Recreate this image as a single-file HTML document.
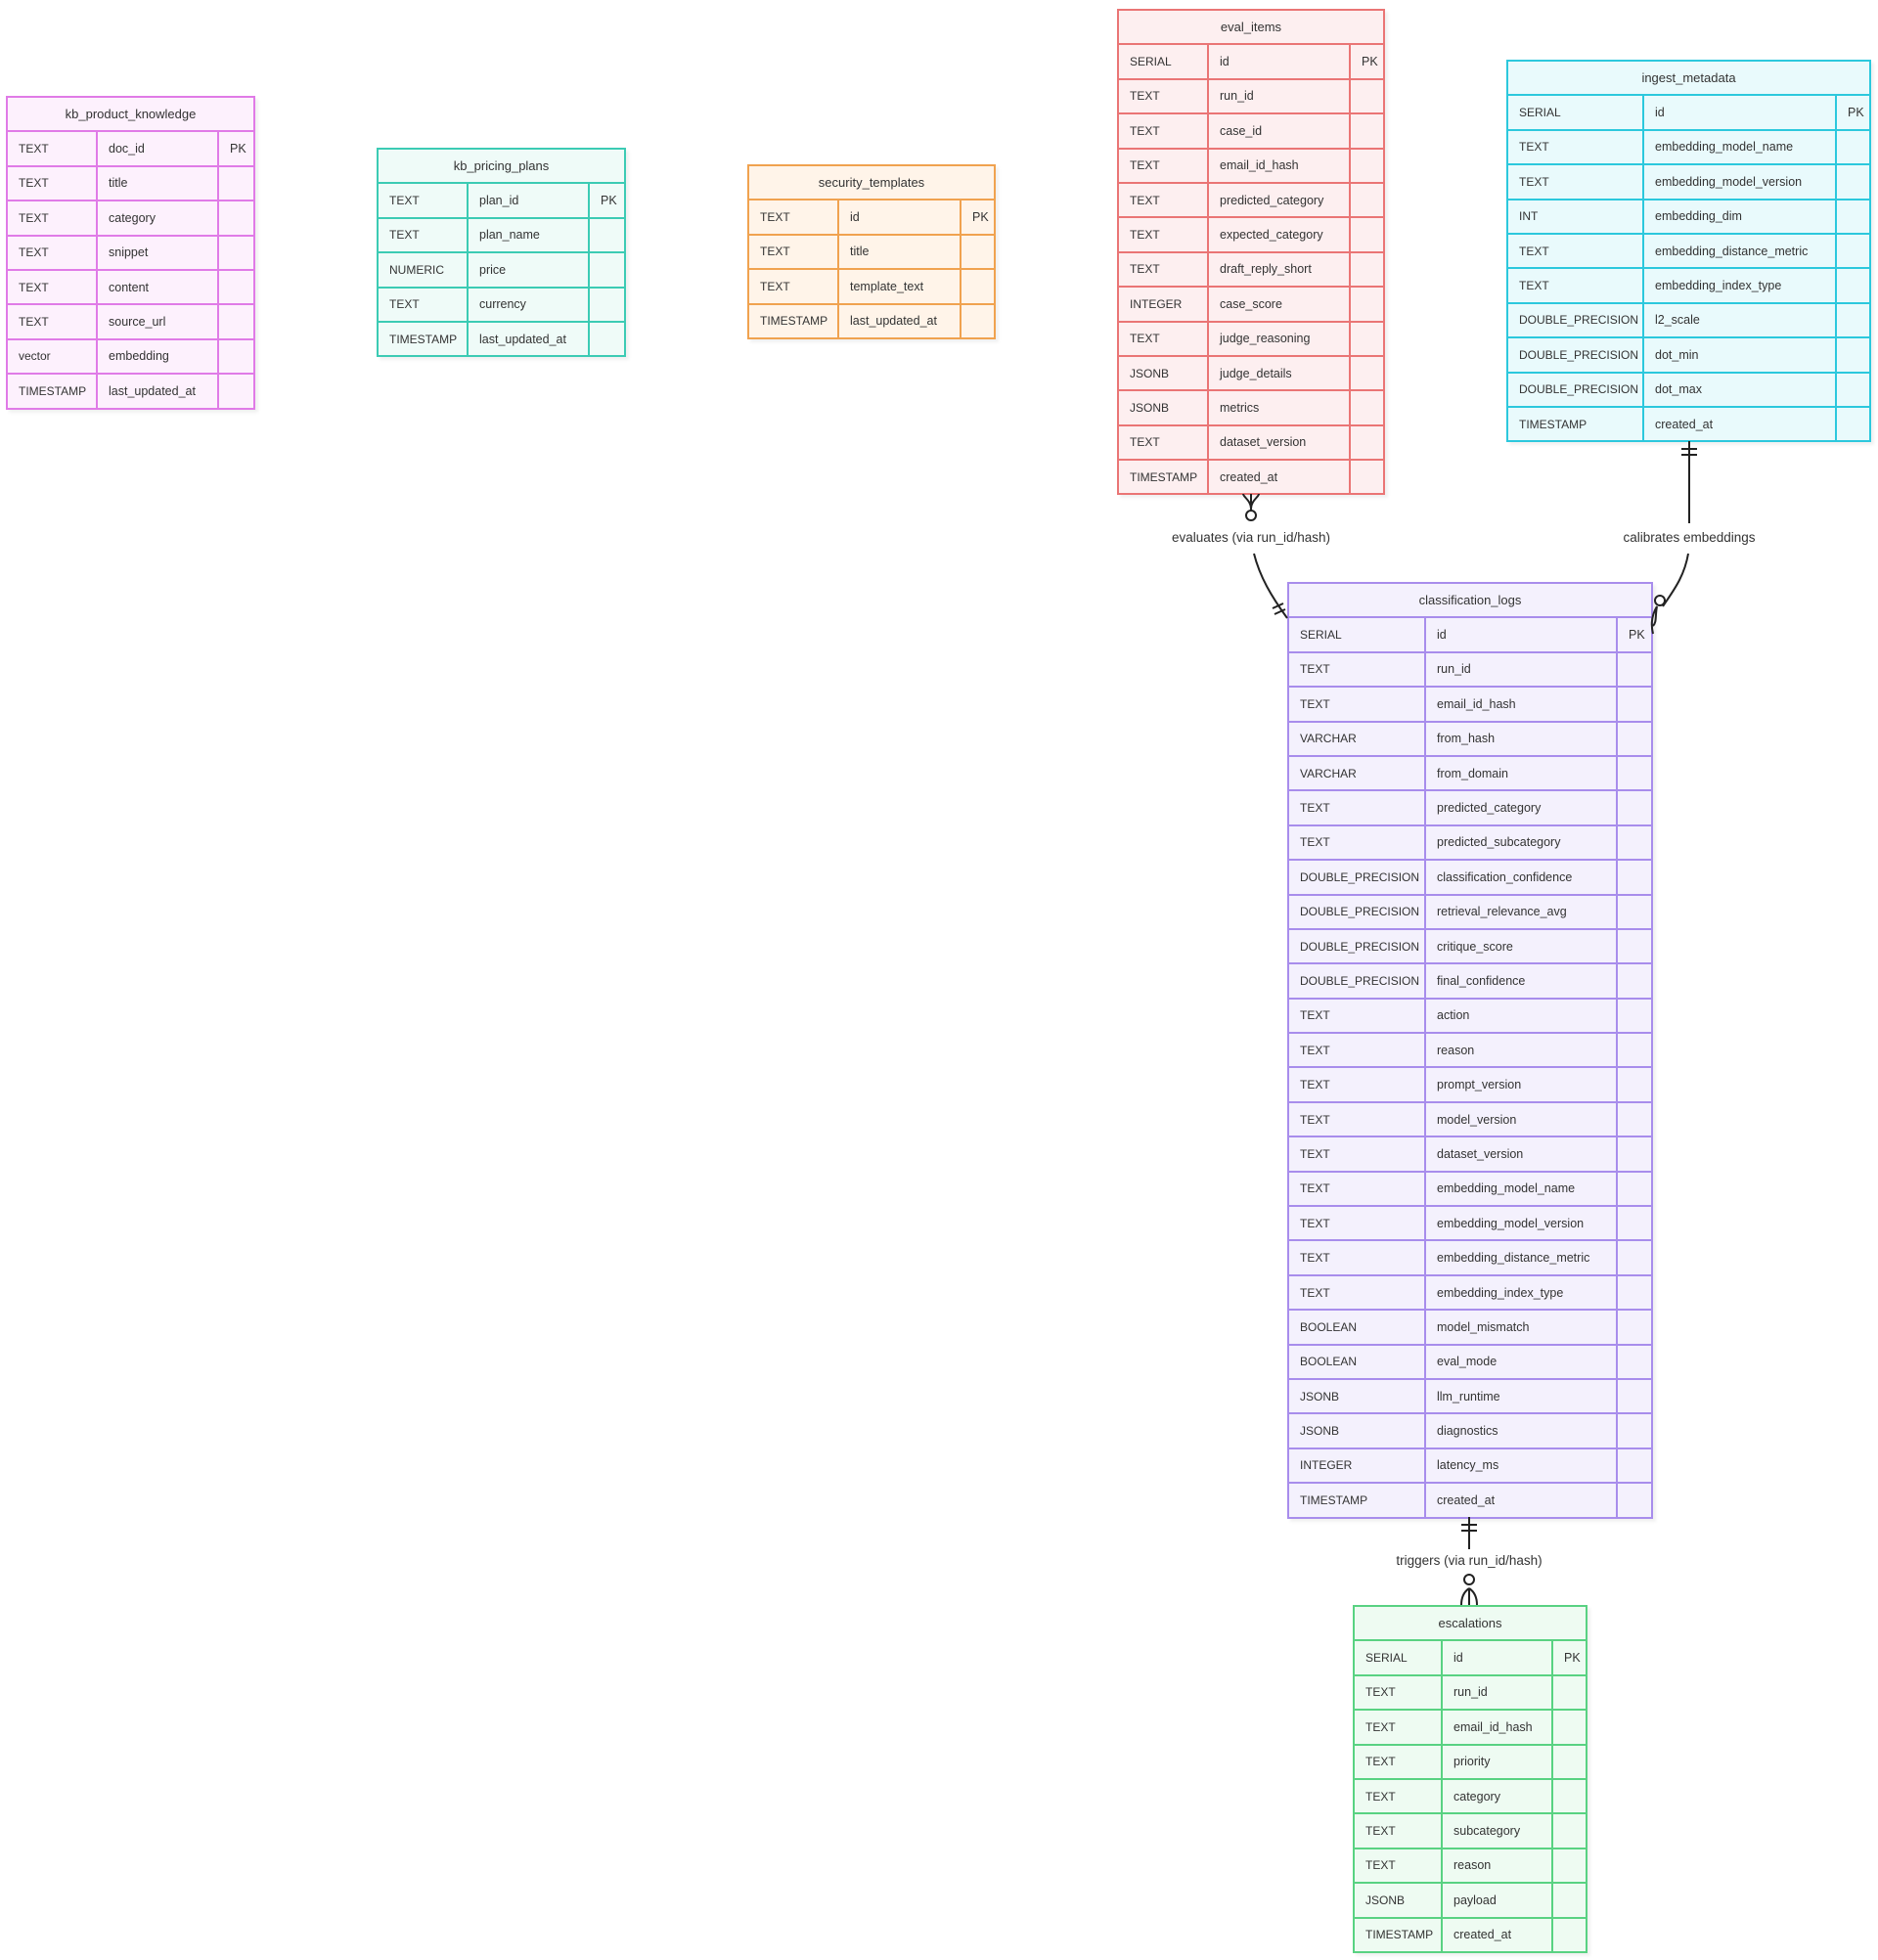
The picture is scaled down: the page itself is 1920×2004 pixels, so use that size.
<!DOCTYPE html>
<html><head><meta charset="utf-8"><style>
body{margin:0;width:1920px;height:2004px;background:#fff;position:relative;overflow:hidden;font-family:"Liberation Sans",sans-serif;color:#333}
table{position:absolute;border-collapse:collapse;font-size:12.5px;box-shadow:3px 3px 3px rgba(0,0,0,0.06);table-layout:fixed}
td{height:33.4px;padding:0 0 0 11px;border-width:2px;border-style:solid;white-space:nowrap;overflow:hidden}
td:first-child{font-size:12px}
th{height:33.4px;padding:0;font-weight:normal;border-width:2px;border-style:solid;font-size:13px}
.p td,.p th{border-color:#e07be7;background:#fdf1fd}
.t td,.t th{border-color:#3ccbb4;background:#effbf8}
.o td,.o th{border-color:#f0a24f;background:#fff4e9}
.r td,.r th{border-color:#ea7575;background:#fdeff0}
.c td,.c th{border-color:#2cc8dd;background:#e9fafc}
.v td,.v th{border-color:#a88dec;background:#f4f1fd}
.g td,.g th{border-color:#59d282;background:#eefbf2}
svg{position:absolute;left:0;top:0}
</style></head><body>

<table class="p" style="left:6px;top:98px;width:255px"><colgroup><col style="width:92px"><col style="width:124px"><col></colgroup>
<tr><th colspan="3">kb_product_knowledge</th></tr>
<tr><td>TEXT</td><td>doc_id</td><td>PK</td></tr>
<tr><td>TEXT</td><td>title</td><td></td></tr>
<tr><td>TEXT</td><td>category</td><td></td></tr>
<tr><td>TEXT</td><td>snippet</td><td></td></tr>
<tr><td>TEXT</td><td>content</td><td></td></tr>
<tr><td>TEXT</td><td>source_url</td><td></td></tr>
<tr><td>vector</td><td>embedding</td><td></td></tr>
<tr><td>TIMESTAMP</td><td>last_updated_at</td><td></td></tr>
</table>

<table class="t" style="left:385px;top:151px;width:255px"><colgroup><col style="width:92px"><col style="width:124px"><col></colgroup>
<tr><th colspan="3">kb_pricing_plans</th></tr>
<tr><td>TEXT</td><td>plan_id</td><td>PK</td></tr>
<tr><td>TEXT</td><td>plan_name</td><td></td></tr>
<tr><td>NUMERIC</td><td>price</td><td></td></tr>
<tr><td>TEXT</td><td>currency</td><td></td></tr>
<tr><td>TIMESTAMP</td><td>last_updated_at</td><td></td></tr>
</table>

<table class="o" style="left:764px;top:168px;width:254px"><colgroup><col style="width:92px"><col style="width:125px"><col></colgroup>
<tr><th colspan="3">security_templates</th></tr>
<tr><td>TEXT</td><td>id</td><td>PK</td></tr>
<tr><td>TEXT</td><td>title</td><td></td></tr>
<tr><td>TEXT</td><td>template_text</td><td></td></tr>
<tr><td>TIMESTAMP</td><td>last_updated_at</td><td></td></tr>
</table>

<table class="r" style="left:1142px;top:9px;width:274px"><colgroup><col style="width:92px"><col style="width:145px"><col></colgroup>
<tr><th colspan="3">eval_items</th></tr>
<tr><td>SERIAL</td><td>id</td><td>PK</td></tr>
<tr><td>TEXT</td><td>run_id</td><td></td></tr>
<tr><td>TEXT</td><td>case_id</td><td></td></tr>
<tr><td>TEXT</td><td>email_id_hash</td><td></td></tr>
<tr><td>TEXT</td><td>predicted_category</td><td></td></tr>
<tr><td>TEXT</td><td>expected_category</td><td></td></tr>
<tr><td>TEXT</td><td>draft_reply_short</td><td></td></tr>
<tr><td>INTEGER</td><td>case_score</td><td></td></tr>
<tr><td>TEXT</td><td>judge_reasoning</td><td></td></tr>
<tr><td>JSONB</td><td>judge_details</td><td></td></tr>
<tr><td>JSONB</td><td>metrics</td><td></td></tr>
<tr><td>TEXT</td><td>dataset_version</td><td></td></tr>
<tr><td>TIMESTAMP</td><td>created_at</td><td></td></tr>
</table>

<table class="c" style="left:1540px;top:61px;width:373px"><colgroup><col style="width:139px"><col style="width:197px"><col></colgroup>
<tr><th colspan="3">ingest_metadata</th></tr>
<tr><td>SERIAL</td><td>id</td><td>PK</td></tr>
<tr><td>TEXT</td><td>embedding_model_name</td><td></td></tr>
<tr><td>TEXT</td><td>embedding_model_version</td><td></td></tr>
<tr><td>INT</td><td>embedding_dim</td><td></td></tr>
<tr><td>TEXT</td><td>embedding_distance_metric</td><td></td></tr>
<tr><td>TEXT</td><td>embedding_index_type</td><td></td></tr>
<tr><td>DOUBLE_PRECISION</td><td>l2_scale</td><td></td></tr>
<tr><td>DOUBLE_PRECISION</td><td>dot_min</td><td></td></tr>
<tr><td>DOUBLE_PRECISION</td><td>dot_max</td><td></td></tr>
<tr><td>TIMESTAMP</td><td>created_at</td><td></td></tr>
</table>

<table class="v" style="left:1316px;top:595px;width:374px"><colgroup><col style="width:140px"><col style="width:196px"><col></colgroup>
<tr><th colspan="3">classification_logs</th></tr>
<tr><td>SERIAL</td><td>id</td><td>PK</td></tr>
<tr><td>TEXT</td><td>run_id</td><td></td></tr>
<tr><td>TEXT</td><td>email_id_hash</td><td></td></tr>
<tr><td>VARCHAR</td><td>from_hash</td><td></td></tr>
<tr><td>VARCHAR</td><td>from_domain</td><td></td></tr>
<tr><td>TEXT</td><td>predicted_category</td><td></td></tr>
<tr><td>TEXT</td><td>predicted_subcategory</td><td></td></tr>
<tr><td>DOUBLE_PRECISION</td><td>classification_confidence</td><td></td></tr>
<tr><td>DOUBLE_PRECISION</td><td>retrieval_relevance_avg</td><td></td></tr>
<tr><td>DOUBLE_PRECISION</td><td>critique_score</td><td></td></tr>
<tr><td>DOUBLE_PRECISION</td><td>final_confidence</td><td></td></tr>
<tr><td>TEXT</td><td>action</td><td></td></tr>
<tr><td>TEXT</td><td>reason</td><td></td></tr>
<tr><td>TEXT</td><td>prompt_version</td><td></td></tr>
<tr><td>TEXT</td><td>model_version</td><td></td></tr>
<tr><td>TEXT</td><td>dataset_version</td><td></td></tr>
<tr><td>TEXT</td><td>embedding_model_name</td><td></td></tr>
<tr><td>TEXT</td><td>embedding_model_version</td><td></td></tr>
<tr><td>TEXT</td><td>embedding_distance_metric</td><td></td></tr>
<tr><td>TEXT</td><td>embedding_index_type</td><td></td></tr>
<tr><td>BOOLEAN</td><td>model_mismatch</td><td></td></tr>
<tr><td>BOOLEAN</td><td>eval_mode</td><td></td></tr>
<tr><td>JSONB</td><td>llm_runtime</td><td></td></tr>
<tr><td>JSONB</td><td>diagnostics</td><td></td></tr>
<tr><td>INTEGER</td><td>latency_ms</td><td></td></tr>
<tr><td>TIMESTAMP</td><td>created_at</td><td></td></tr>
</table>

<table class="g" style="left:1383px;top:1641px;width:240px"><colgroup><col style="width:90px"><col style="width:113px"><col></colgroup>
<tr><th colspan="3">escalations</th></tr>
<tr><td>SERIAL</td><td>id</td><td>PK</td></tr>
<tr><td>TEXT</td><td>run_id</td><td></td></tr>
<tr><td>TEXT</td><td>email_id_hash</td><td></td></tr>
<tr><td>TEXT</td><td>priority</td><td></td></tr>
<tr><td>TEXT</td><td>category</td><td></td></tr>
<tr><td>TEXT</td><td>subcategory</td><td></td></tr>
<tr><td>TEXT</td><td>reason</td><td></td></tr>
<tr><td>JSONB</td><td>payload</td><td></td></tr>
<tr><td>TIMESTAMP</td><td>created_at</td><td></td></tr>
</table>

<svg width="1920" height="2004" viewBox="0 0 1920 2004" fill="none" stroke="#222" stroke-width="2">
<!-- evaluates -->
<path d="M1279,505 L1279,530 M1282,566 C1288,590 1300,610 1316,632"/>
<path d="M1279,520 C1279,512 1271,508 1271,505 M1279,520 C1279,512 1287,508 1287,505"/>
<circle cx="1279" cy="527" r="5" fill="#fff"/>
<path d="M1301,622 L1312,617 M1303,628 L1314,623"/>
<!-- calibrates -->
<path d="M1727,451 L1727,535 M1726,566 C1722,590 1710,605 1700,620"/>
<path d="M1719,459 L1735,459 M1719,465 L1735,465"/>
<circle cx="1697" cy="614" r="5" fill="#fff"/>
<path d="M1694,620 C1688,630 1688,640 1690,648 M1694,620 C1692,630 1694,636 1690,640"/>
<!-- triggers -->
<path d="M1502,1551 L1502,1584 M1502,1610 L1502,1618"/>
<path d="M1494,1559 L1510,1559 M1494,1565 L1510,1565"/>
<circle cx="1502" cy="1615" r="5" fill="#fff"/>
<path d="M1502,1624 C1496,1628 1494,1634 1494,1641 M1502,1624 C1508,1628 1510,1634 1510,1641 M1502,1624 L1502,1641"/>
<g font-family="Liberation Sans, sans-serif" font-size="13.5" fill="#333" stroke="none" text-anchor="middle">
<text x="1279" y="554">evaluates (via run_id/hash)</text>
<text x="1727" y="554">calibrates embeddings</text>
<text x="1502" y="1600">triggers (via run_id/hash)</text>
</g>
</svg>
</body></html>
